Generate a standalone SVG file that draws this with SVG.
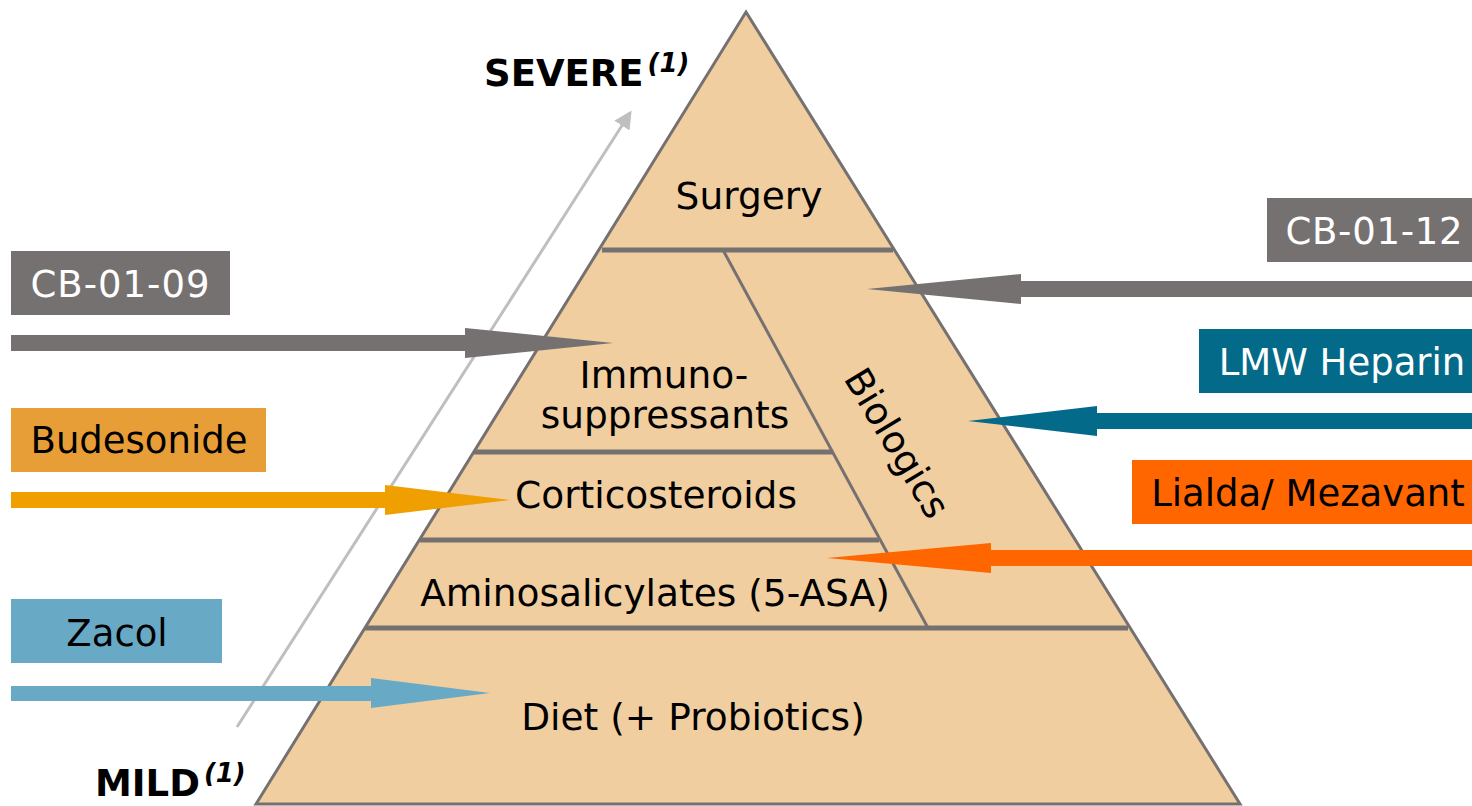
<svg xmlns="http://www.w3.org/2000/svg" width="1472" height="806" viewBox="0 0 1472 806">
<style>
text{font-family:"DejaVu Sans",Verdana,sans-serif;}
.lbl{font-size:37.5px;fill:#000;text-anchor:middle;}
.box{font-size:37px;text-anchor:middle;}
.div{stroke:#767171;stroke-width:5;fill:none;}
.thin{stroke:#767171;stroke-width:3;fill:none;}
.sev{font-size:37px;font-weight:bold;fill:#000;}
.sup{font-size:26px;font-weight:bold;font-style:italic;}
</style>
<defs>
<marker id="lg" markerWidth="6" markerHeight="6" refX="5" refY="3" orient="auto" markerUnits="strokeWidth">
<path d="M0,0 L6,3 L0,6 z" fill="#BFBFBF"/>
</marker>
</defs>
<rect width="1472" height="806" fill="#fff"/>
<g id="pyramid">
<polygon points="746,12 1240,804 256,804" fill="#F1CE9F" stroke="#767171" stroke-width="3"/>
<line class="div" x1="602" y1="250" x2="893" y2="250"/>
<line class="div" x1="474" y1="452" x2="833" y2="452"/>
<line class="div" x1="420" y1="540" x2="879" y2="540"/>
<line class="div" x1="365" y1="628" x2="1128" y2="628"/>
<line class="thin" x1="723" y1="250" x2="928" y2="628"/>
</g>
<g id="n-surgery"><text class="lbl" x="749" y="209">Surgery</text></g>
<g id="n-immuno"><text class="lbl" x="664" y="388">Immuno-</text><text class="lbl" x="665" y="428">suppressants</text></g>
<g id="n-cortico"><text class="lbl" x="656" y="508">Corticosteroids</text></g>
<g id="n-amino"><text class="lbl" x="655" y="606">Aminosalicylates (5-ASA)</text></g>
<g id="n-diet"><text class="lbl" x="693" y="730">Diet (+ Probiotics)</text></g>
<g id="n-bio"><text class="lbl" transform="translate(897,443) rotate(59)" y="13">Biologics</text></g>
<g id="n-severe"><text class="sev" x="484" y="86">SEVERE<tspan class="sup" dy="-14" dx="4">(1)</tspan></text></g>
<g id="n-mild"><text class="sev" x="95" y="796">MILD<tspan class="sup" dy="-14" dx="4">(1)</tspan></text></g>
<g id="b-cb0109"><rect x="11" y="251" width="219" height="64" fill="#767171"/><text class="box" x="120" y="297" fill="#fff" textLength="179" lengthAdjust="spacing">CB-01-09</text></g>
<g id="b-bud"><rect x="11" y="408" width="255" height="64" fill="#E89E36"/><text class="box" x="139" y="453" fill="#000">Budesonide</text></g>
<g id="b-zacol"><rect x="11" y="599" width="211" height="64" fill="#68A9C6"/><text class="box" x="117" y="646" fill="#000">Zacol</text></g>
<g id="b-cb0112"><rect x="1267" y="198" width="205" height="64" fill="#767171"/><text class="box" x="1374" y="244" fill="#fff" textLength="177" lengthAdjust="spacing">CB-01-12</text></g>
<g id="b-lmw"><rect x="1199" y="329" width="273" height="64" fill="#046A89"/><text class="box" x="1342" y="375" fill="#fff">LMW Heparin</text></g>
<g id="b-lialda"><rect x="1132" y="460" width="340" height="64" fill="#FF6600"/><text class="box" x="1308" y="506" fill="#000">Lialda/ Mezavant</text></g>
<g id="connectors">
<line x1="237" y1="727" x2="630" y2="113" stroke="#BFBFBF" stroke-width="3" marker-end="url(#lg)"/>
<polygon points="11,335 465,335 465,328 613,343 465,358 465,351 11,351" fill="#767171"/>
<polygon points="11,492 385,492 385,485 510,500 385,515 385,508 11,508" fill="#EFA000"/>
<polygon points="11,686 371,686 371,678 490,693 371,708 371,701 11,701" fill="#68A9C6"/>
<polygon points="1472,281 1021,281 1021,274 867,289 1021,304 1021,297 1472,297" fill="#767171"/>
<polygon points="1472,413 1097,413 1097,406 968,421 1097,436 1097,429 1472,429" fill="#046A89"/>
<polygon points="1472,550 991,550 991,543 827,558 991,573 991,566 1472,566" fill="#FF6600"/>
</g>
</svg>
